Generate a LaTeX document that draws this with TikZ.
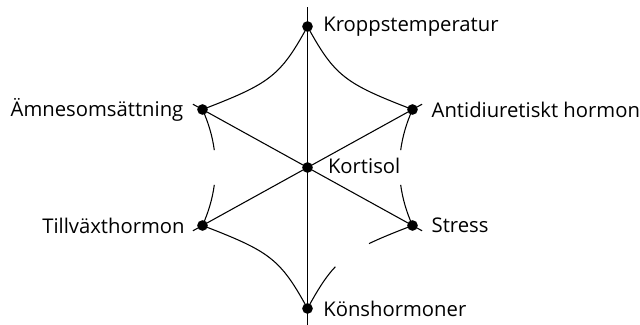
\documentclass[tikz,border=0pt]{standalone}
\usepackage{fontspec}
\setmainfont{Open Sans}
\usetikzlibrary{positioning}
\tikzset{%
  % Specifications for style of nodes:
    hormoneDot/.style = {circle, fill=black, inner sep=0pt, minimum size=8pt},
   hormoneText/.style = {inner sep=0pt, font=\fontsize{15.2}{18}\selectfont},
          link/.style = {line width=0.8pt},
}

\begin{document}
\begin{tikzpicture}[x=0.75pt, y=0.75pt, node distance=7.5pt]
  \useasboundingbox (-307.5,-157.5) rectangle (332.5,167.5);
  % Specification of nodes (position, etc.)
  \node (cortDot)   [hormoneDot] at (0,0)       {};
  \node (tempDot)   [hormoneDot] at (0,141)     {};
  \node (sexDot)    [hormoneDot] at (0,-141)    {};
  \node (metabDot)  [hormoneDot] at (-105,58)   {};
  \node (adhDot)    [hormoneDot] at (105,58)    {};
  \node (growthDot) [hormoneDot] at (-105,-58)  {};
  \node (stressDot) [hormoneDot] at (105,-58)   {};

  \node (tempText)   [hormoneText, right=of tempDot]             {Kroppstemperatur};
  \node (sexText)    [hormoneText, right=of sexDot]              {Könshormoner};
  \node (cortText)   [hormoneText, right=11pt of cortDot, yshift=1.5pt] {Kortisol};
  \node (metabText)  [hormoneText, left=10pt of metabDot]        {Ämnesomsättning};
  \node (adhText)    [hormoneText, right=10pt of adhDot]         {Antidiuretiskt hormon};
  \node (growthText) [hormoneText, left=9pt of growthDot]        {Tillväxthormon};
  \node (stressText) [hormoneText, right=10pt of stressDot]      {Stress};

  % free ends of the axes and of the broken arcs
  \coordinate (topEnd)        at (0,160);
  \coordinate (bottomEnd)     at (0,-158);
  \coordinate (metabEnd)      at (-114.6,63.3);
  \coordinate (stressEnd)     at (114.6,-63.3);
  \coordinate (adhEnd)        at (114.6,63.3);
  \coordinate (growthEnd)     at (-114.6,-63.3);
  \coordinate (metabGap)      at (-93.2,17.4);
  \coordinate (growthGap)     at (-93.2,-17.4);
  \coordinate (adhGap)        at (93.2,17.4);
  \coordinate (stressSideGap) at (93.2,-17.4);
  \coordinate (sexGap)        at (27.88,-99.24);
  \coordinate (stressGap)     at (61.53,-76.1);

  % Axes through the centre
  \draw[link] (topEnd) -- (tempDot.center) -- (sexDot.center) -- (bottomEnd);
  \draw[link] (metabEnd) -- (metabDot.center) -- (stressDot.center) -- (stressEnd);
  \draw[link] (adhEnd) -- (adhDot.center) -- (growthDot.center) -- (growthEnd);

  % Arcs between the outer nodes
  \draw[link] (tempDot.center) .. controls +(-27.3,-49.9) and +(67.2,25.9) .. (metabDot.center);
  \draw[link] (tempDot.center) .. controls +(27.3,-49.9) and +(-67.2,25.9) .. (adhDot.center);
  \draw[link] (sexDot.center) .. controls +(-27.3,49.9) and +(67.2,-25.9) .. (growthDot.center);

  \draw[link] (metabDot.center) .. controls +(6.07,-13.53) and +(-1.8,13.53) .. (metabGap);
  \draw[link] (growthGap) .. controls +(-1.8,-13.53) and +(6.07,13.53) .. (growthDot.center);
  \draw[link] (adhDot.center) .. controls +(-6.07,-13.53) and +(1.8,13.53) .. (adhGap);
  \draw[link] (stressSideGap) .. controls +(1.8,-13.53) and +(-6.07,13.53) .. (stressDot.center);

  \draw[link] (sexDot.center) .. controls +(10.37,18.96) and +(-9.56,-10) .. (sexGap);
  \draw[link] (stressGap) .. controls +(11.32,5.48) and +(-18.14,-6.99) .. (stressDot.center);
\end{tikzpicture}
\end{document}
